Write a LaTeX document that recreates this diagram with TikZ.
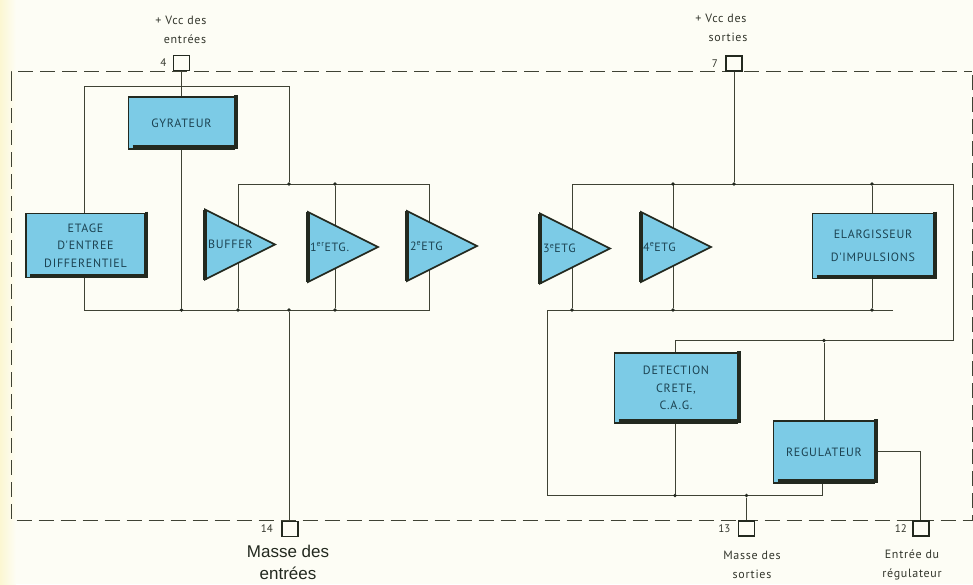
\documentclass[tikz,border=0pt]{standalone}
\usepackage{fontspec}
\setmainfont{PT Sans}
\newfontfamily\spacedfont[LetterSpace=6]{PT Sans}
\newfontfamily\massefont{Liberation Sans}
\usetikzlibrary{arrows.meta,calc,positioning,shapes.geometric,backgrounds}
\definecolor{icPaper}{HTML}{FDFDF5}
\definecolor{icEdge}{HTML}{FCF7D2}
\definecolor{icBlue}{HTML}{7CCBE6}
\definecolor{icInk}{HTML}{23291F}
\definecolor{icLine}{HTML}{3F4234}
\definecolor{icText}{HTML}{1C4352}
\definecolor{icNote}{HTML}{33362C}
\begin{document}
\begin{tikzpicture}[x=1pt,y=-1pt,line cap=butt,line join=miter]
\tikzset{wire/.style={draw=icLine,line width=1pt},frameline/.style={draw=icLine,line width=0.9pt,dash pattern=on 15pt off 7pt},blockbox/.style={draw=icInk,fill=icBlue,line width=1.4pt,inner sep=0pt,outer sep=0pt,font=\spacedfont\fontsize{12}{17.5}\selectfont,text=icText,align=center},heavy/.style={draw=icInk,line width=3.2pt},amp/.style={isosceles triangle,isosceles triangle stretches,shape border rotate=0,anchor=lower side,draw=icInk,fill=icBlue,line width=1.7pt,inner sep=0pt,outer sep=0pt,minimum width=70pt,minimum height=70pt},amptext/.style={font=\spacedfont\fontsize{12}{14}\selectfont,text=icText,inner sep=0pt},pinbox/.style={rectangle,draw=icInk,fill=icPaper,line width=1.3pt,minimum width=16pt,minimum height=15pt,inner sep=0pt,outer sep=0pt},pinnum/.style={font=\fontsize{11}{12}\selectfont,text=icNote,inner sep=0pt},note/.style={font=\spacedfont\fontsize{12}{19.5}\selectfont,text=icNote,align=center,inner sep=0pt},dot/.style={circle,fill=icInk,inner sep=0pt,minimum size=3.6pt}}
\begin{scope}[on background layer]
\path[fill=icPaper] (0,0) rectangle (973,584);
\shade[left color=icEdge,right color=icPaper] (0,0) rectangle (16,584);
\end{scope}
\draw[frameline] (11,86) -- (11,71) -- (972,71);
\draw[frameline] (11,86) -- (11,520.5) -- (972,520.5) -- (972,71);
\node[pinbox] (pinIn) at (181.5,63) {}; \node[pinbox] (pinOut) at (734,63.5) {};
\node[pinbox] (pinGndIn) at (290,529) {}; \node[pinbox] (pinGndOut) at (746.5,528.5) {}; \node[pinbox] (pinReg) at (921,528.5) {};
\node[pinnum,left=7pt of pinIn] (numIn) {4}; \node[pinnum,left=8pt of pinOut] (numOut) {7};
\node[pinnum,left=9pt of pinGndIn] (numGndIn) {14}; \node[pinnum,left=8pt of pinGndOut] (numGndOut) {13}; \node[pinnum,left=6pt of pinReg] (numReg) {12};
\node[note] (vccIn) at (181,30) {+ Vcc  des\\\hspace*{8pt}entrées};
\node[note] (vccOut) at (721,28) {+ Vcc  des\\\hspace*{14pt}sorties};
\node[note] (gndOut) at (752,565) {Masse des\\sorties};
\node[note] (regIn) at (912,565) {Entrée du\\régulateur};
\node[font=\massefont\fontsize{17}{22}\selectfont,text=icInk,align=center,inner sep=0pt] (gndIn) at (288,562.5) {Masse des\\entrées};
\node[blockbox,minimum width=106pt,minimum height=52pt] (gyrateur) at (181.5,123) {GYRATEUR};
\node[blockbox,minimum width=119pt,minimum height=64pt] (etage) at (85.5,245.5) {ETAGE\\D'ENTREE\\DIFFERENTIEL};
\node[blockbox,minimum width=121pt,minimum height=65pt] (elarg) at (873,246) {ELARGISSEUR\\[6pt]D'IMPULSIONS};
\node[blockbox,minimum width=123pt,minimum height=70pt] (detect) at (676,388) {DETECTION\\CRETE,\\C.A.G.};
\node[blockbox,minimum width=101pt,minimum height=62pt] (regul) at (824,452) {REGULATEUR};
\foreach \blk in {gyrateur,etage,elarg,detect,regul}{
\draw[heavy] ([xshift=1.5pt,yshift=2pt]\blk.north east) -- ([xshift=1.5pt]\blk.south east);
\draw[heavy] ([xshift=4pt,yshift=2pt]\blk.south west) -- ([xshift=-1pt,yshift=2pt]\blk.south east);}
\node[amp] (buffer) at (205,244.5) {}; \node[amp] (etgA) at (308,247) {}; \node[amp] (etgB) at (407,246) {};
\node[amp] (etgC) at (540,248.5) {}; \node[amp] (etgD) at (641,247) {};
\node[amptext,anchor=west] (bufferlab) at ([xshift=3pt]buffer.lower side) {BUFFER};
\node[amptext,anchor=west] (etgAlab) at ([xshift=2pt]etgA.lower side) {1\textsuperscript{er}ETG.};
\node[amptext,anchor=west] (etgBlab) at ([xshift=3pt]etgB.lower side) {2\textsuperscript{e}ETG};
\node[amptext,anchor=west] (etgClab) at ([xshift=3pt]etgC.lower side) {3\textsuperscript{e}ETG};
\node[amptext,anchor=west] (etgDlab) at ([xshift=2pt]etgD.lower side) {4\textsuperscript{e}ETG};
\foreach \ampn in {buffer,etgA,etgB,etgC,etgD}{\draw[heavy] (\ampn.left corner) -- (\ampn.right corner);}
\coordinate (topL) at (84,86); \coordinate (topR) at (289,86); \coordinate (midL) at (238,184); \coordinate (midM) at (335,184); \coordinate (midR) at (429,184);
\coordinate (lowL) at (84,310); \coordinate (lowR) at (429,310);
\coordinate (outL) at (572,184); \coordinate (outM) at (673,184); \coordinate (outR) at (953,184);
\coordinate (retL) at (547,310); \coordinate (retR) at (893,310); \coordinate (backL) at (675,340.5); \coordinate (backR) at (953,340.5);
\coordinate (botL) at (547,495.5); \coordinate (botR) at (822,495.5); \coordinate (regTurn) at (920,451);
\node[dot] (jInMid) at (topR |- midL) {}; \node[dot] (jInLow) at (topR |- lowL) {}; \node[dot] (jGyr) at (181.5,310) {};
\node[dot] (jBufL) at (midL |- lowL) {}; \node[dot] (jAmpL) at (midM |- lowL) {}; \node[dot] (jAmpT) at (midM) {};
\node[dot] (jOut) at (pinOut |- outL) {}; \node[dot] (jOutM) at (outM) {}; \node[dot] (jElarg) at (872,184) {};
\node[dot] (jRetA) at (outL |- retL) {}; \node[dot] (jRetB) at (outM |- retL) {}; \node[dot] (jRetC) at (872,310) {};
\node[dot] (jBack) at (regul.north |- backL) {}; \node[dot] (jBot) at (675,495.5) {}; \node[dot] (jGnd) at (pinGndOut |- botL) {};
\begin{scope}[on background layer]
\draw[wire] (pinIn) -- (gyrateur.north);
\draw[wire] (etage.north -| topL) -- (topL) -- (topR) -- (jInMid);
\draw[wire] (midL) -- (midR) -- (lowR) -- (lowL) -- (etage.south -| lowL);
\draw[wire] (midL) -- (jBufL); \draw[wire] (jAmpT) -- (jAmpL);
\draw[wire] (gyrateur.south) -- (jGyr); \draw[wire] (jInLow) -- (pinGndIn.north -| jInLow);
\draw[wire] (pinOut) -- (jOut);
\draw[wire] (outL) -- (outR) -- (backR) -- (backL) -- (detect.north -| backL);
\draw[wire] (outL) -- (jRetA); \draw[wire] (outM) -- (jRetB);
\draw[wire] (jElarg) -- (elarg.north -| jElarg); \draw[wire] (elarg.south -| jRetC) -- (jRetC);
\draw[wire] (retR) -- (retL) -- (botL) -- (botR) -- (regul.south -| botR);
\draw[wire] (detect.south -| jBot) -- (jBot); \draw[wire] (jGnd) -- (pinGndOut);
\draw[wire] (jBack) -- (regul.north);
\draw[wire] (regTurn -| regul.east) -- (regTurn) -- (pinReg.north -| regTurn);
\end{scope}
\end{tikzpicture}
\end{document}
